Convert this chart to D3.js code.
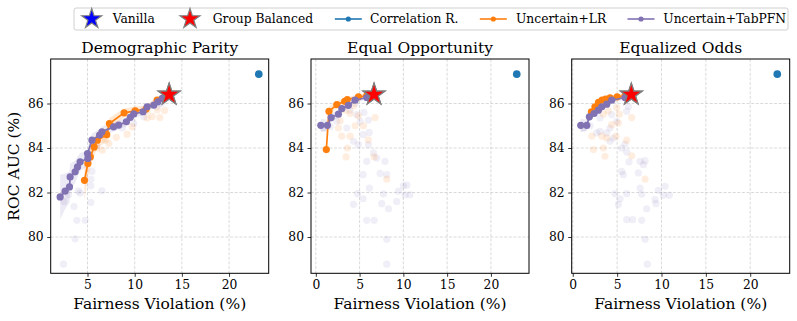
<!DOCTYPE html>
<html>
<head>
<meta charset="utf-8">
<script src="https://cdn.jsdelivr.net/npm/d3@7"></script>
<style>
  body { margin: 0; background: #fff; }
  svg { display: block; font-family: 'DejaVu Serif', serif; }
</style>
</head>
<body>
<svg id="chart" width="797" height="321"></svg>
<script>
// ---- data ----
var titles = ['Demographic Parity', 'Equal Opportunity', 'Equalized Odds'];
var xTicks = [[5, 10, 15, 20], [0, 5, 10, 15, 20], [0, 5, 10, 15, 20]];
var yTicks = [80, 82, 84, 86];
var legendLabels = ['Vanilla', 'Group Balanced', 'Correlation R.', 'Uncertain+LR', 'Uncertain+TabPFN'];

// star markers (vanilla sits under group balanced)
var vanilla = [[13.65, 86.4], [6.65, 86.4], [6.6, 86.4]];
var groupBalanced = [[13.65, 86.4], [6.65, 86.4], [6.6, 86.4]];
var correlationR = [[23.15, 87.32], [22.95, 87.32], [23.05, 87.32]];

// Uncertain+LR (orange)
var lrDP = [[4.68, 82.55], [5.04, 83.3], [5.3, 83.6], [5.7, 84.05], [6.04, 84.35], [7.04, 84.6],
  [7.32, 85.1], [8.88, 85.58], [10.05, 85.67], [11.2, 85.75], [12.38, 86.15], [13.1, 86.27]];
var lrEO = [[1.2, 83.93], [1.5, 85.65], [2.4, 85.95], [3.3, 86.1], [3.6, 86.18], [4.87, 86.3], [5.82, 86.35]];
var lrEOd = [[2.1, 85.62], [2.5, 85.85], [2.9, 86.05], [3.3, 86.15], [3.7, 86.2], [4.2, 86.25], [5.0, 86.3], [5.9, 86.35]];
var lrErrDP = [0.9, 0.6, 0.5, 0.4, 0.35, 0.3, 0.25, 0.2, 0.2, 0.15, 0.15, 0.1];
var lrErrEO = [0.4, 0.2, 0.15, 0.12, 0.1, 0.1, 0.1];
var lrErrEOd = [0.15, 0.12, 0.1, 0.1, 0.1, 0.1, 0.1, 0.1];

// Uncertain+TabPFN (purple)
var tabDP = [[2.1, 81.8], [2.63, 82.06], [3.09, 82.25], [3.16, 82.7], [3.69, 82.93], [3.94, 83.15],
  [4.22, 83.38], [5.04, 83.53], [5.0, 83.75], [5.47, 84.35], [6.28, 84.58], [6.53, 84.73],
  [7.77, 84.95], [8.3, 85.03], [9.12, 85.18], [9.54, 85.38], [9.9, 85.53], [10.89, 85.63],
  [11.32, 85.85], [12.03, 85.93], [12.46, 86.08], [12.92, 86.23]];
var tabEO = [[0.57, 85.02], [1.33, 85.02], [1.75, 85.37], [2.58, 85.52], [2.97, 85.77], [3.72, 85.92], [4.48, 86.15], [5.82, 86.27]];
var tabEOd = [[0.9, 85.02], [1.58, 85.02], [1.87, 85.4], [2.4, 85.55], [2.89, 85.7], [3.27, 85.85], [3.83, 85.97], [4.39, 86.15], [5.89, 86.27]];
var tabErrDP = [1.0, 0.8, 0.7, 0.6, 0.5, 0.45, 0.4, 0.35, 0.3, 0.3, 0.25, 0.25, 0.2, 0.2, 0.2, 0.2, 0.2, 0.15, 0.15, 0.15, 0.15, 0.1];
var tabErrEO = [0.3, 0.25, 0.2, 0.15, 0.15, 0.1, 0.1, 0.1];
var tabErrEOd = [0.3, 0.25, 0.2, 0.15, 0.15, 0.1, 0.1, 0.1, 0.1];

// faint individual runs
var lrRunsDP = [[6.57, 83.9], [7.27, 84.2], [8.05, 84.48], [9.2, 84.62], [9.72, 84.95], [11.32, 85.35],
  [11.85, 85.42], [12.67, 85.37], [13.17, 85.69], [12.4, 85.72], [11.32, 85.69], [6.92, 84.35], [6.0, 84.0]];
var tabRunsDP = [[2.45, 78.78], [3.69, 79.92], [3.87, 80.75], [4.75, 80.75], [4.22, 81.97], [3.57, 81.37],
  [5.36, 81.56], [5.47, 82.95], [5.36, 82.3], [6.53, 82.08], [4.04, 82.08], [5.36, 82.6], [6.0, 84.1],
  [8.68, 84.9], [9.9, 85.1], [10.96, 85.4], [12.38, 85.85], [12.8, 86.0], [2.5, 81.6], [3.0, 81.9]];
var lrRunsEO = [[8.1, 82.6], [6.66, 83.6], [6.0, 84.37], [6.77, 85.37], [3.46, 83.6], [3.61, 84.0], [2.96, 84.53],
  [3.91, 84.53], [4.49, 85.0], [2.58, 84.9], [3.35, 85.7], [4.3, 85.9], [4.87, 85.45], [2.78, 85.23],
  [3.91, 85.55], [5.44, 85.0]];
var tabRunsEO = [[8.1, 78.78], [8.1, 79.9], [5.82, 80.75], [6.66, 80.75], [4.3, 81.47], [5.4, 81.72],
  [8.3, 81.27], [7.53, 81.5], [4.76, 81.95], [6.12, 82.2], [7.72, 81.94], [9.24, 81.6], [9.43, 82.06],
  [10.0, 82.3], [10.4, 82.33], [10.76, 81.9], [10.2, 81.9], [5.4, 82.8], [7.34, 82.86], [7.9, 83.4],
  [8.1, 82.8], [5.82, 83.4], [6.96, 83.55], [6.59, 83.78], [6.0, 84.15], [4.86, 84.15], [4.3, 84.3],
  [5.4, 84.6], [6.1, 84.7], [5.06, 85.2], [6.0, 85.25], [4.67, 85.5], [3.54, 84.9], [3.9, 85.7],
  [0.87, 84.9], [1.63, 84.97], [2.4, 85.2], [5.5, 85.6], [4.5, 86.0]];
var lrRunsEOd = [[8.15, 82.6], [6.64, 83.65], [6.08, 84.35], [6.64, 85.37], [3.63, 83.63], [3.45, 84.0],
  [2.33, 83.93], [2.14, 84.53], [3.27, 84.53], [3.83, 84.45], [4.88, 84.53], [5.14, 85.12], [4.39, 85.05],
  [5.25, 85.52], [4.0, 85.67], [3.45, 85.52], [4.95, 85.82]];
var tabRunsEOd = [[8.4, 78.78], [8.15, 79.9], [6.08, 80.78], [6.75, 80.78], [7.77, 80.75], [5.14, 81.47],
  [5.33, 81.72], [8.33, 81.27], [9.38, 81.5], [9.27, 81.68], [4.76, 81.95], [6.08, 81.95], [7.77, 81.93],
  [7.58, 82.2], [9.65, 82.1], [10.4, 82.28], [10.88, 81.88], [10.2, 81.88], [5.7, 82.8], [5.51, 82.95],
  [7.39, 82.88], [8.15, 83.43], [7.58, 83.4], [7.96, 83.25], [6.34, 83.38], [6.08, 83.82], [5.89, 84.18],
  [5.51, 84.0], [4.2, 84.3], [4.57, 84.45], [3.83, 84.68], [4.2, 84.9], [3.07, 84.75], [2.7, 84.68],
  [1.2, 84.9], [1.95, 85.0], [4.95, 85.2], [4.39, 85.5], [3.07, 85.35], [6.08, 85.65], [6.26, 85.87]];

var lrSeries = [lrDP, lrEO, lrEOd];
var lrErrs = [lrErrDP, lrErrEO, lrErrEOd];
var tabSeries = [tabDP, tabEO, tabEOd];
var tabErrs = [tabErrDP, tabErrEO, tabErrEOd];
var lrRuns = [lrRunsDP, lrRunsEO, lrRunsEOd];
var tabRuns = [tabRunsDP, tabRunsEO, tabRunsEOd];

// ---- layout ----
var colors = { vanilla: '#0000ff', group: '#ff0000', corr: '#1f77b4', lr: '#ff7f0e', tab: '#8172b3' };
var panelLeft = [50.7, 311, 571.7];
var panelW = 218;
var panelTop = 59;
var panelH = 214.3;
var xDomains = [[1.1, 24.2], [-0.55, 24.35], [-0.12, 24.45]];
var yDomain = [78.37, 88.0];
var tickFont = 12.3;
var labelFont = 15.5;

var svg = d3.select('#chart');

function starPath(R) {
  var r = R * 0.381966, pts = [];
  for (var i = 0; i < 10; i++) {
    var a = -Math.PI / 2 + i * Math.PI / 5;
    var rad = i % 2 === 0 ? R : r;
    pts.push([rad * Math.cos(a), rad * Math.sin(a)]);
  }
  return 'M' + pts.map(function (p) { return p[0].toFixed(2) + ',' + p[1].toFixed(2); }).join('L') + 'Z';
}

titles.forEach(function (title, i) {
  var x = d3.scaleLinear().domain(xDomains[i]).range([0, panelW]);
  var y = d3.scaleLinear().domain(yDomain).range([panelH, 0]);
  var g = svg.append('g').attr('transform', 'translate(' + panelLeft[i] + ',' + panelTop + ')');

  // clip
  g.append('clipPath').attr('id', 'clip' + i)
    .append('rect').attr('width', panelW).attr('height', panelH);

  // grid
  var grid = g.append('g').attr('class', 'grid');
  grid.selectAll('line.gx').data(xTicks[i]).enter().append('line')
    .attr('x1', function (d) { return x(d); }).attr('x2', function (d) { return x(d); })
    .attr('y1', 0).attr('y2', panelH);
  grid.selectAll('line.gy').data(yTicks).enter().append('line')
    .attr('x1', 0).attr('x2', panelW)
    .attr('y1', function (d) { return y(d); }).attr('y2', function (d) { return y(d); });
  grid.selectAll('line')
    .attr('stroke', '#b0b0b0').attr('stroke-opacity', 0.6)
    .attr('stroke-width', 0.8).attr('stroke-dasharray', '3,1.6');

  var plot = g.append('g').attr('clip-path', 'url(#clip' + i + ')');

  // faint runs
  plot.selectAll('circle.runTab').data(tabRuns[i]).enter().append('circle')
    .attr('cx', function (d) { return x(d[0]); }).attr('cy', function (d) { return y(d[1]); })
    .attr('r', 3.6).attr('fill', colors.tab).attr('fill-opacity', 0.12);
  plot.selectAll('circle.runLr').data(lrRuns[i]).enter().append('circle')
    .attr('cx', function (d) { return x(d[0]); }).attr('cy', function (d) { return y(d[1]); })
    .attr('r', 3.6).attr('fill', colors.lr).attr('fill-opacity', 0.13);

  // bands
  var band = function (errs) {
    return d3.area()
      .x(function (d) { return x(d[0]); })
      .y0(function (d, k) { return y(d[1] - errs[k]); })
      .y1(function (d, k) { return y(d[1] + errs[k]); });
  };
  plot.append('path').datum(tabSeries[i]).attr('d', band(tabErrs[i]))
    .attr('fill', colors.tab).attr('fill-opacity', 0.15);
  plot.append('path').datum(lrSeries[i]).attr('d', band(lrErrs[i]))
    .attr('fill', colors.lr).attr('fill-opacity', 0.18);

  // correlation remover
  plot.append('circle')
    .attr('cx', x(correlationR[i][0])).attr('cy', y(correlationR[i][1]))
    .attr('r', 3.8).attr('fill', colors.corr);

  var line = d3.line().x(function (d) { return x(d[0]); }).y(function (d) { return y(d[1]); });
  [[lrSeries[i], colors.lr], [tabSeries[i], colors.tab]].forEach(function (s) {
    plot.append('path').datum(s[0]).attr('d', line)
      .attr('fill', 'none').attr('stroke', s[1]).attr('stroke-width', 1.7);
    plot.selectAll(null).data(s[0]).enter().append('circle')
      .attr('cx', function (d) { return x(d[0]); }).attr('cy', function (d) { return y(d[1]); })
      .attr('r', 3.6).attr('fill', s[1]);
  });

  // stars
  g.append('path').attr('d', starPath(11.5))
    .attr('transform', 'translate(' + x(vanilla[i][0]) + ',' + y(vanilla[i][1]) + ')')
    .attr('fill', colors.vanilla).attr('stroke', '#808080').attr('stroke-width', 1.2);
  g.append('path').attr('d', starPath(11.5))
    .attr('transform', 'translate(' + x(groupBalanced[i][0]) + ',' + y(groupBalanced[i][1]) + ')')
    .attr('fill', colors.group).attr('stroke', '#808080').attr('stroke-width', 1.2);

  // axes
  var xAxis = g.append('g').attr('transform', 'translate(0,' + panelH + ')')
    .call(d3.axisBottom(x).tickValues(xTicks[i]).tickSize(3.5).tickPadding(3));
  var yAxis = g.append('g')
    .call(d3.axisLeft(y).tickValues(yTicks).tickSize(3.5).tickPadding(3.5));
  [xAxis, yAxis].forEach(function (a) {
    a.select('.domain').remove();
    a.selectAll('text').attr('font-family', 'DejaVu Serif').attr('font-size', tickFont).attr('fill', '#000');
    a.selectAll('line').attr('stroke', '#000').attr('stroke-width', 0.8);
  });

  g.append('rect').attr('width', panelW).attr('height', panelH)
    .attr('fill', 'none').attr('stroke', '#000').attr('stroke-width', 1);

  g.append('text').attr('x', panelW / 2).attr('y', -6)
    .attr('text-anchor', 'middle').attr('font-size', labelFont).text(title);
  g.append('text').attr('x', panelW / 2).attr('y', panelH + 36)
    .attr('text-anchor', 'middle').attr('font-size', labelFont).text('Fairness Violation (%)');
  if (i === 0) {
    g.append('text')
      .attr('transform', 'translate(' + (-31.5) + ',' + (panelH / 2) + ') rotate(-90)')
      .attr('text-anchor', 'middle').attr('font-size', labelFont).text('ROC AUC (%)');
  }
});

// ---- legend ----
var legend = svg.append('g');
legend.append('rect').attr('x', 74).attr('y', 8).attr('width', 714).attr('height', 22)
  .attr('rx', 2).attr('fill', '#fff').attr('stroke', '#d0d0d0').attr('stroke-width', 1);
var legendX = [91.7, 190, 348.3, 493.3, 641];
var textX = [112.7, 212.7, 370, 516, 663.3];
var legendColors = [colors.vanilla, colors.group, colors.corr, colors.lr, colors.tab];
legendLabels.forEach(function (label, k) {
  if (k < 2) {
    legend.append('path').attr('d', starPath(10.5))
      .attr('transform', 'translate(' + legendX[k] + ',19)')
      .attr('fill', legendColors[k]).attr('stroke', '#808080').attr('stroke-width', 1.2);
  } else {
    legend.append('line').attr('x1', legendX[k] - 13.5).attr('x2', legendX[k] + 13.5)
      .attr('y1', 19).attr('y2', 19).attr('stroke', legendColors[k]).attr('stroke-width', 1.6);
    legend.append('circle').attr('cx', legendX[k]).attr('cy', 19).attr('r', 2.6).attr('fill', legendColors[k]);
  }
  legend.append('text').attr('x', textX[k]).attr('y', 19).attr('dy', '0.35em')
    .attr('font-size', tickFont).text(label);
});
</script>
</body>
</html>
